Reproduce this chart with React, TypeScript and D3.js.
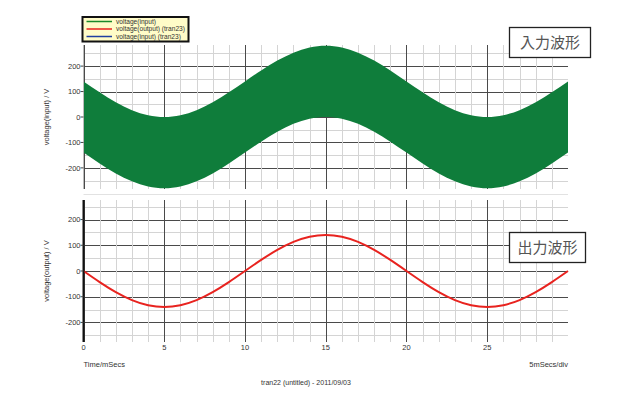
import React from "react";
import * as d3 from "d3";

const timeMs = [0,1,2,3,4,5,6,7,8,9,10,11,12,13,14,15,16,17,18,19,20,21,22,23,24,25,26,27,28,29,30];
const inputUpper = [140,97,58,27,7,0,7,27,58,97,140,183,222,253,273,280,273,253,222,183,140,97,58,27,7,0,7,27,58,97,140];
const inputLower = [-140,-183,-222,-253,-273,-280,-273,-253,-222,-183,-140,-97,-58,-27,-7,0,-7,-27,-58,-97,-140,-183,-222,-253,-273,-280,-273,-253,-222,-183,-140];
const outputV = [0,-43,-82,-113,-133,-140,-133,-113,-82,-43,0,43,82,113,133,140,133,113,82,43,0,-43,-82,-113,-133,-140,-133,-113,-82,-43,0];
const xTickLabels = [0,5,10,15,20,25];
const yTickLabels = [200,100,0,-100,-200];
const legendItems = [
  { label: "voltage(input)", color: "#1a8a2a" },
  { label: "voltage(output) (tran23)", color: "#e8231f" },
  { label: "voltage(input) (tran23)", color: "#1f3fa0" },
];

const W = 627, H = 397;
const x = d3.scaleLinear().domain([0, 30]).range([83.5, 568]);
const yTop = d3.scaleLinear().domain([-283, 283]).range([189, 45]);
const yBot = d3.scaleLinear().domain([-276, 276]).range([342, 200]);

const font = "'Liberation Sans', Arial, sans-serif";

function Grid({ y, top, bottom }: { y: d3.ScaleLinear<number, number>; top: number; bottom: number }) {
  const xs = d3.range(0, 30, 1);
  const ys = d3.range(-250, 251, 50);
  return (
    <g>
      {ys.map((v) => {
        const yy = Math.round(y(v)) + 0.5;
        if (yy < top || yy > bottom) return null;
        const major = v % 100 === 0;
        return <line key={"h" + v} x1={x(0)} x2={x(30)} y1={yy} y2={yy} stroke={major ? "#4a4a4a" : "#d4d4d4"} strokeWidth={1} />;
      })}
      {xs.map((v) => {
        const xx = Math.round(x(v)) + 0.5;
        const major = v % 5 === 0;
        return <line key={"v" + v} x1={xx} x2={xx} y1={top} y2={bottom} stroke={major ? "#4a4a4a" : "#d4d4d4"} strokeWidth={1} />;
      })}
    </g>
  );
}

function YAxis({ y, title, titleY, thick }: { y: d3.ScaleLinear<number, number>; title: string; titleY: number; thick: boolean }) {
  const [d0, d1] = y.domain();
  return (
    <g fontFamily={font} fontSize={7.5} fill="#333">
      <line x1={x(0)} x2={x(0)} y1={y(d1)} y2={y(d0)} stroke={thick ? "#111" : "#bbb"} strokeWidth={thick ? 2 : 1} />
      {yTickLabels.map((v) => (
        <g key={v}>
          <line x1={x(0) - 3} x2={x(0)} y1={y(v)} y2={y(v)} stroke="#444" />
          <text x={x(0) - 3} y={y(v)} dy="0.35em" textAnchor="end">{v === 0 ? "0" : v < 0 ? "-" + Math.abs(v) : String(v)}</text>
        </g>
      ))}
      <text transform={`translate(49,${titleY}) rotate(-90)`} textAnchor="middle" fontSize={7.5}>{title}</text>
    </g>
  );
}

export default function App() {
  const band = d3.area<number>()
    .x((_, i) => x(timeMs[i]))
    .y0((_, i) => yTop(inputLower[i]))
    .y1((_, i) => yTop(inputUpper[i]))
    .curve(d3.curveNatural)(timeMs);
  const outLine = d3.line<number>()
    .x((_, i) => x(timeMs[i]))
    .y((_, i) => yBot(outputV[i]))
    .curve(d3.curveNatural)(timeMs);

  return (
    <svg width={W} height={H} style={{ position: "absolute", left: 0, top: 0, background: "#fff" }}>
      <rect width={W} height={H} fill="#fff" />
      {/* top plot */}
      <Grid y={yTop} top={45} bottom={189} />
      <path d={band || ""} fill="#0f7d3b" />
      <YAxis y={yTop} title="voltage(input) / V" titleY={117} thick={false} />
      {/* separator */}
      <line x1={x(0)} x2={x(30)} y1={194.5} y2={194.5} stroke="#e2e2e2" />
      {/* bottom plot */}
      <Grid y={yBot} top={200} bottom={342} />
      <path d={outLine || ""} fill="none" stroke="#e8231f" strokeWidth={2} />
      <YAxis y={yBot} title="voltage(output) / V" titleY={271} thick={true} />
      {/* x axis labels */}
      <g fontFamily={font} fontSize={7.5} fill="#333">
        {xTickLabels.map((v) => (
          <text key={v} x={x(v)} y={350} textAnchor="middle">{v}</text>
        ))}
        <text x={x(0)} y={367}>Time/mSecs</text>
        <text x={x(30)} y={367} textAnchor="end">5mSecs/div</text>
        <text x={306} y={385} textAnchor="middle" fontSize={7}>tran22 (untitled) - 2011/09/03</text>
      </g>
      {/* legend */}
      <g>
        <rect x={82.5} y={17} width={106} height={24.5} fill="#fffcc8" stroke="#111" strokeWidth={2} />
        {legendItems.map((it, i) => (
          <g key={it.label}>
            <line x1={86.5} x2={112} y1={21.5 + i * 7.5} y2={21.5 + i * 7.5} stroke={it.color} strokeWidth={1.5} />
            <text x={116} y={21.5 + i * 7.5} dy="0.35em" fontFamily={font} fontSize={6.6} fill="#333">{it.label}</text>
          </g>
        ))}
      </g>
      {/* annotation boxes */}
      <g fontFamily="'Noto Sans CJK JP', sans-serif" fill="#555">
        <rect x={509.5} y={27.5} width={81} height={30} fill="#fff" stroke="#222" strokeWidth={1.3} />
        <text x={550} y={43} dy="0.35em" textAnchor="middle" fontSize={15}>入力波形</text>
        <rect x={509.5} y={232.5} width={76} height={30} fill="#fff" stroke="#222" strokeWidth={1.3} />
        <text x={547.5} y={248} dy="0.35em" textAnchor="middle" fontSize={15}>出力波形</text>
      </g>
    </svg>
  );
}
